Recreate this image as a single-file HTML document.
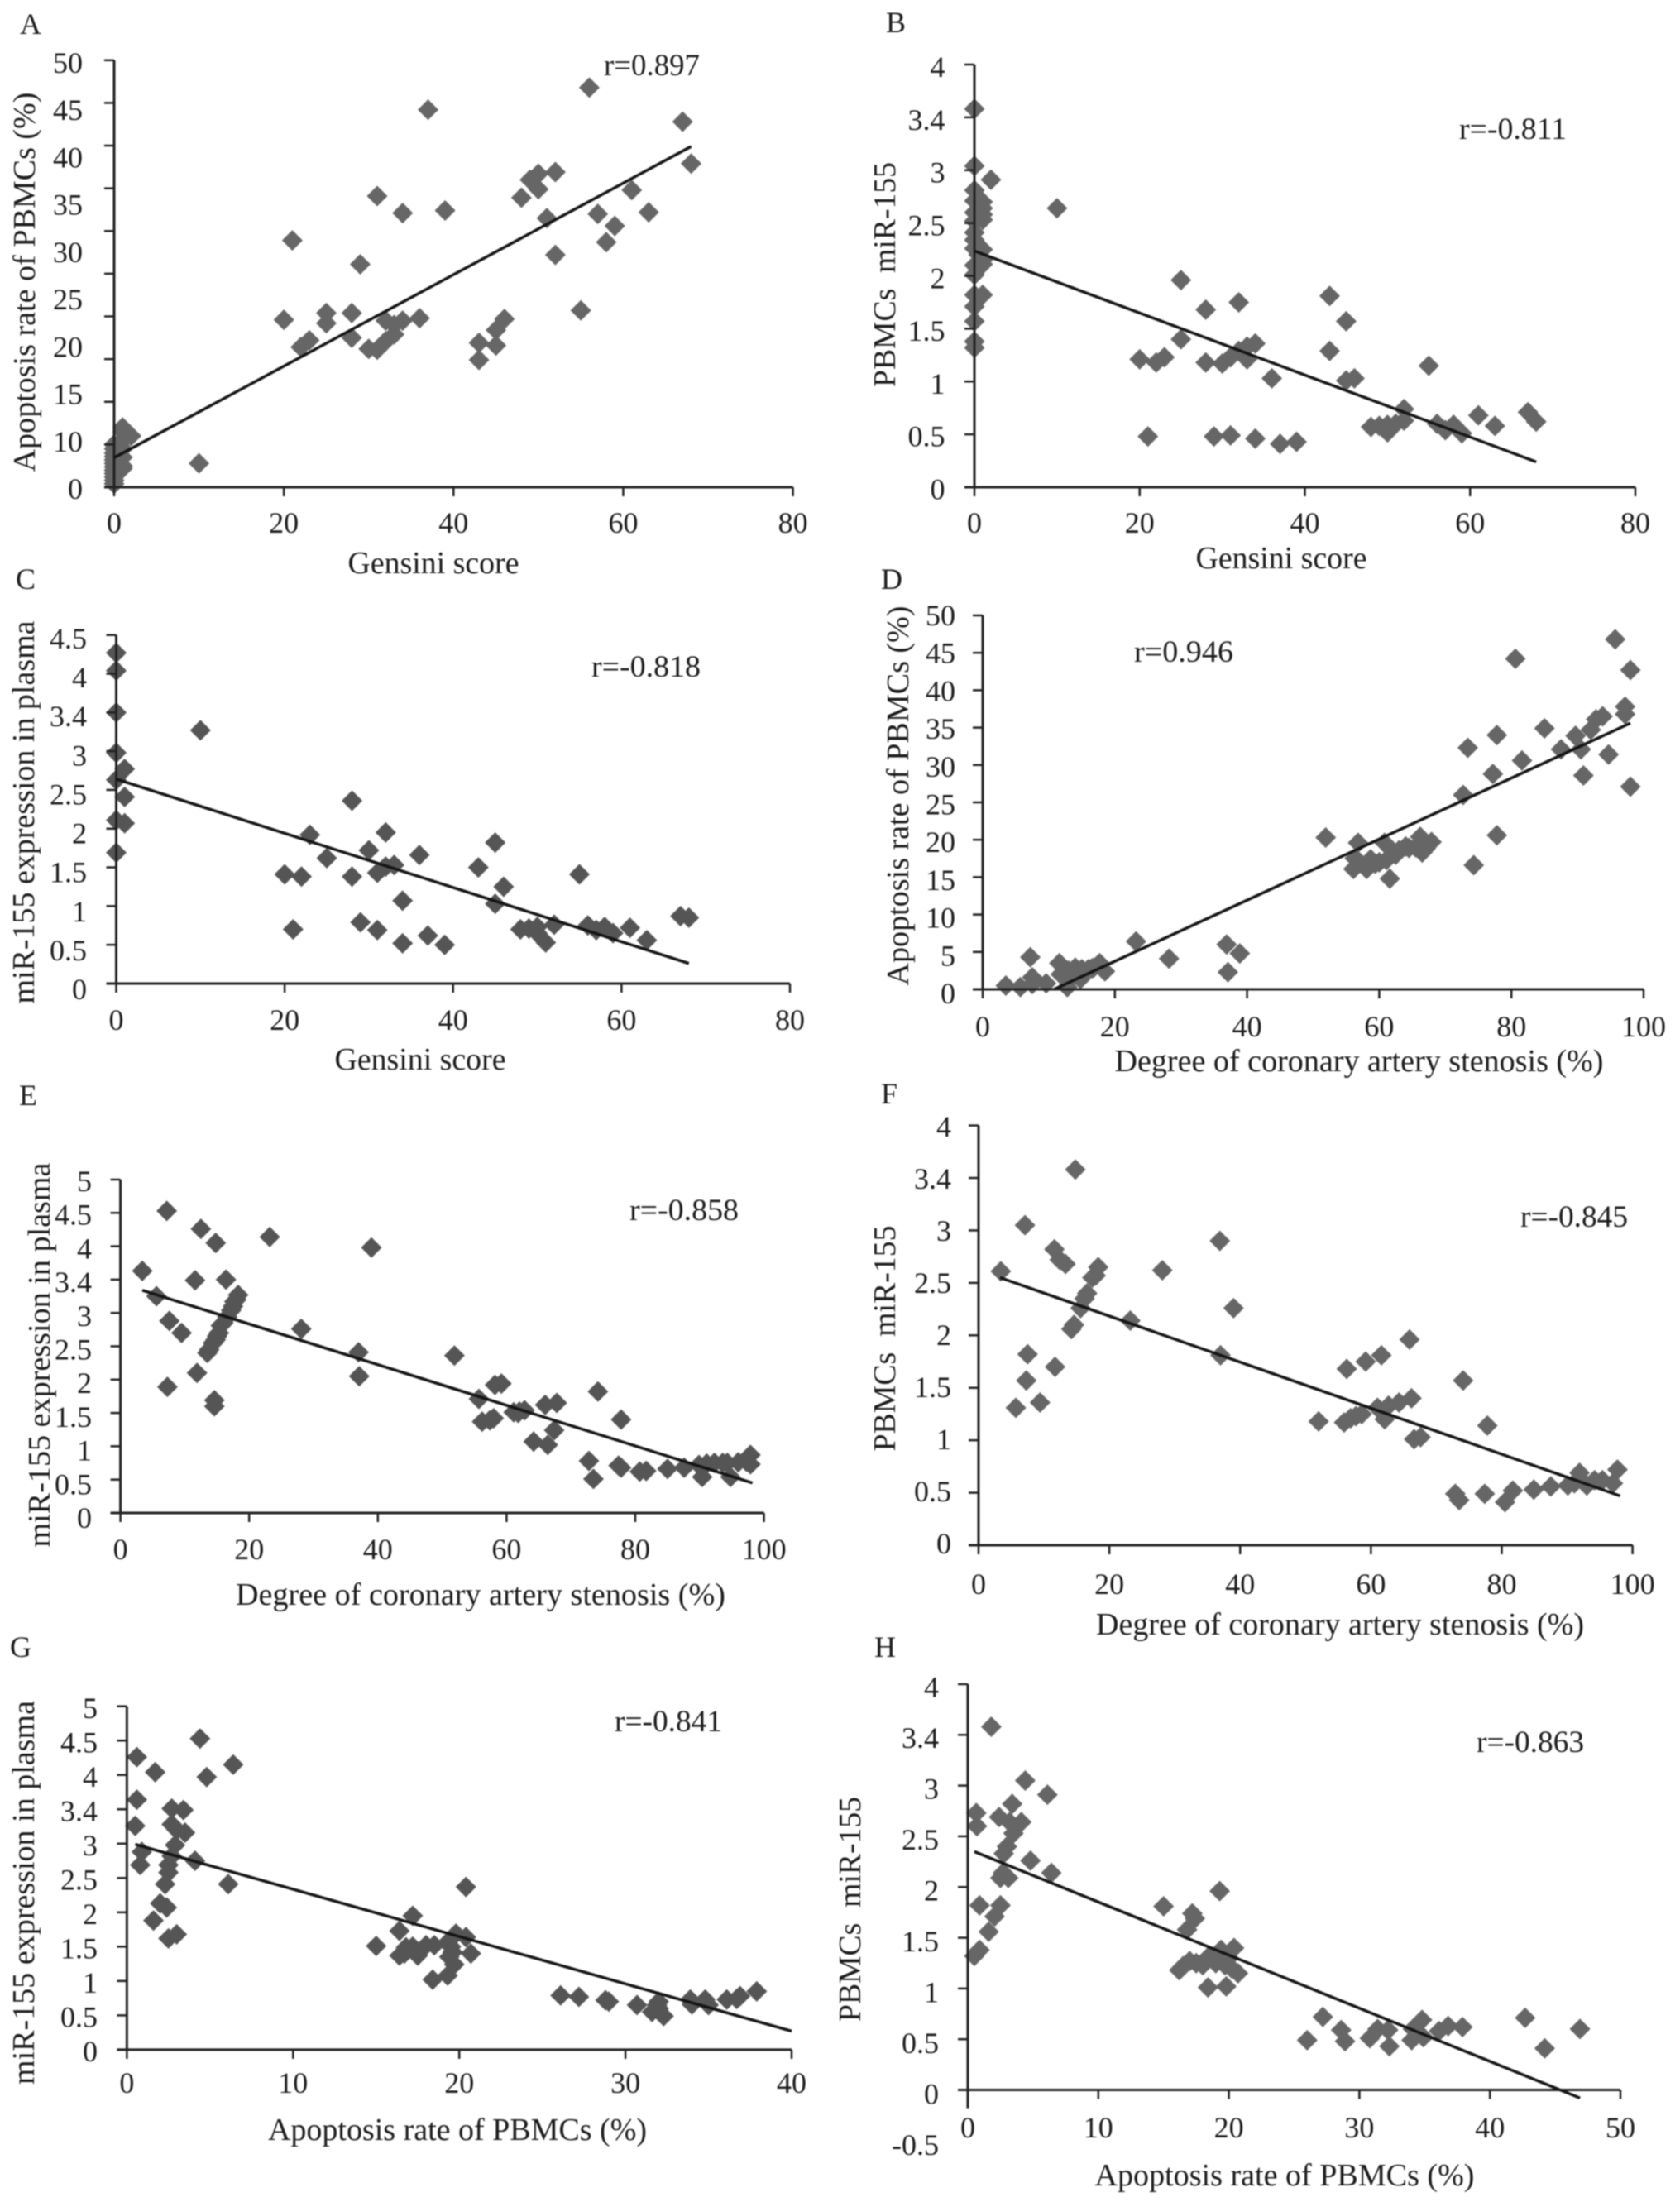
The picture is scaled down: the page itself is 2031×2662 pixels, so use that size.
<!DOCTYPE html>
<html lang="en">
<head>
<meta charset="utf-8">
<title>Correlation scatter plots A-H</title>
<style>
html,body{margin:0;padding:0;background:#fff;width:2031px;height:2662px;overflow:hidden}
svg{display:block;filter:blur(0.7px)}
text{font-family:"Liberation Serif","Times New Roman",serif;fill:#1c1c1c}
.tick{font-size:36px}
.title{font-size:38px}
.r{font-size:37px}
.letter{font-size:36px}
</style>
</head>
<body>
<svg id="figure" xmlns="http://www.w3.org/2000/svg" width="2031" height="2662" viewBox="0 0 2031 2662">
<rect x="0" y="0" width="2031" height="2662" fill="#fff"/>

<g id="panel-a">
<text class="letter" x="37" y="41" text-anchor="middle">A</text>
<text class="r" x="788" y="91" text-anchor="middle" textLength="116" lengthAdjust="spacingAndGlyphs">r=0.897</text>
<text class="title" x="524" y="693" text-anchor="middle" textLength="207" lengthAdjust="spacingAndGlyphs">Gensini score</text>
<text class="title" transform="translate(42,341) rotate(-90)" text-anchor="middle" textLength="459" lengthAdjust="spacingAndGlyphs">Apoptosis rate of PBMCs (%)</text>
</g>

<g id="panel-b">
<text class="letter" x="1083" y="39" text-anchor="middle">B</text>
<text class="r" x="1829" y="168" text-anchor="middle" textLength="130" lengthAdjust="spacingAndGlyphs">r=-0.811</text>
<text class="title" x="1549" y="687" text-anchor="middle" textLength="207" lengthAdjust="spacingAndGlyphs">Gensini score</text>
<text class="title" transform="translate(1082,332) rotate(-90)" text-anchor="middle" textLength="272" lengthAdjust="spacingAndGlyphs" xml:space="preserve">PBMCs  miR-155</text>
</g>

<g id="panel-c">
<text class="letter" x="31" y="712" text-anchor="middle">C</text>
<text class="r" x="781" y="818" text-anchor="middle" textLength="132" lengthAdjust="spacingAndGlyphs">r=-0.818</text>
<text class="title" x="508" y="1293" text-anchor="middle" textLength="207" lengthAdjust="spacingAndGlyphs">Gensini score</text>
<text class="title" transform="translate(41,982) rotate(-90)" text-anchor="middle" textLength="463" lengthAdjust="spacingAndGlyphs">miR-155 expression in plasma</text>
</g>

<g id="panel-d">
<text class="letter" x="1078" y="712" text-anchor="middle">D</text>
<text class="r" x="1431" y="800" text-anchor="middle" textLength="120" lengthAdjust="spacingAndGlyphs">r=0.946</text>
<text class="title" x="1643" y="1295" text-anchor="middle" textLength="591" lengthAdjust="spacingAndGlyphs">Degree of coronary artery stenosis (%)</text>
<text class="title" transform="translate(1098,962) rotate(-90)" text-anchor="middle" textLength="459" lengthAdjust="spacingAndGlyphs">Apoptosis rate of PBMCs (%)</text>
</g>

<g id="panel-e">
<text class="letter" x="34" y="1336" text-anchor="middle">E</text>
<text class="r" x="827" y="1475" text-anchor="middle" textLength="132" lengthAdjust="spacingAndGlyphs">r=-0.858</text>
<text class="title" x="581" y="1940" text-anchor="middle" textLength="592" lengthAdjust="spacingAndGlyphs">Degree of coronary artery stenosis (%)</text>
<text class="title" transform="translate(60,1638) rotate(-90)" text-anchor="middle" textLength="465" lengthAdjust="spacingAndGlyphs">miR-155 expression in plasma</text>
</g>

<g id="panel-f">
<text class="letter" x="1075" y="1334" text-anchor="middle">F</text>
<text class="r" x="1903" y="1483" text-anchor="middle" textLength="130" lengthAdjust="spacingAndGlyphs">r=-0.845</text>
<text class="title" x="1620" y="1976" text-anchor="middle" textLength="590" lengthAdjust="spacingAndGlyphs">Degree of coronary artery stenosis (%)</text>
<text class="title" transform="translate(1082,1618) rotate(-90)" text-anchor="middle" textLength="273" lengthAdjust="spacingAndGlyphs" xml:space="preserve">PBMCs  miR-155</text>
</g>

<g id="panel-g">
<text class="letter" x="25" y="2003" text-anchor="middle">G</text>
<text class="r" x="808" y="2093" text-anchor="middle" textLength="130" lengthAdjust="spacingAndGlyphs">r=-0.841</text>
<text class="title" x="553" y="2587" text-anchor="middle" textLength="458" lengthAdjust="spacingAndGlyphs">Apoptosis rate of PBMCs (%)</text>
<text class="title" transform="translate(41,2288) rotate(-90)" text-anchor="middle" textLength="464" lengthAdjust="spacingAndGlyphs">miR-155 expression in plasma</text>
</g>

<g id="panel-h">
<text class="letter" x="1070" y="2003" text-anchor="middle">H</text>
<text class="r" x="1850" y="2118" text-anchor="middle" textLength="130" lengthAdjust="spacingAndGlyphs">r=-0.863</text>
<text class="title" x="1553" y="2642" text-anchor="middle" textLength="459" lengthAdjust="spacingAndGlyphs">Apoptosis rate of PBMCs (%)</text>
<text class="title" transform="translate(1040,2308) rotate(-90)" text-anchor="middle" textLength="272" lengthAdjust="spacingAndGlyphs" xml:space="preserve">PBMCs  miR-155</text>
</g>
</svg>

<script>
// ---- Shared axis data ----
const gensiniTicks = [0, 20, 40, 60, 80];
const stenosisTicks = [0, 20, 40, 60, 80, 100];
const apoptosisTicksG = [0, 10, 20, 30, 40];
const apoptosisTicksH = [0, 10, 20, 30, 40, 50];
const apoptosisValueTicks = [0, 5, 10, 15, 20, 25, 30, 35, 40, 45, 50];
const pbmcValueTicks = [0, 0.5, 1, 1.5, 2, 2.5, 3, 3.5, 4];
const plasmaTicksC = [0, 0.5, 1, 1.5, 2, 2.5, 3, 3.5, 4, 4.5];
const plasmaTicksEG = [0, 0.5, 1, 1.5, 2, 2.5, 3, 3.5, 4, 4.5, 5];

const yLabelsA = ['50','45','40','35','30','25','20','15','10','0'];
const yLabelsB = ['4','3.4','3','2.5','2','1.5','1','0.5','0'];
const yLabelsC = ['4.5','4','3.4','3','2.5','2','1.5','1','0.5','0'];
const yLabelsD = ['50','45','40','35','30','25','20','15','10','5','0'];
const yLabelsE = ['5','4.5','4','3.4','3','2.5','2','1.5','1','0.5','0'];
const yLabelsH = ['4','3.4','3','2.5','2','1.5','1','0.5','0','-0.5'];

// ---- Panel A: Gensini score vs apoptosis ----
const aGensini = [0,0,0,0,0,0,0,0,0,0,0,0,1,1,1,1,1,1,1,2,10,20,21,22,23,25,25,28,28,29,30,31,31,32,32,33,33,34,34,36,37,39,43,43,45,45,46,48,49,50,50,51,52,52,55,56,57,58,59,61,63,67,68];
const aApoptosis = [0.4,0.8,1.2,1.6,2,2.4,2.8,3.2,3.6,4,4.5,5,2.2,2.5,3.5,4.5,5.5,6.5,7,6,2.8,19.6,28.9,16.4,17.2,20.4,19.2,20.4,17.5,26.1,16.2,34.1,16.1,17.1,19.5,17.9,19,32.1,19.5,19.8,44.2,32.4,16.9,14.9,16.6,18.4,19.7,33.9,36,36.7,34.9,31.5,36.9,27.2,20.7,46.8,32,28.7,30.6,34.8,32.2,42.8,37.9];
const aTrendX = [0, 68];
const aTrendY = [3.46, 39.9];

// ---- Panel B: Gensini score vs PBMC miR-155 ----
const bGensini = [0,0,0,0,0,0,0,0,0,0,0,0,0,0,0,0,0.5,0.5,0.5,1,1,1,1,1,1,1,1,2,10,20,21,22,23,25,25,28,28,29,30,31,31,32,32,33,33,34,34,36,37,39,43,43,45,45,46,48,49,50,50,51,52,52,55,56,57,58,59,61,63,67,68];
const bMir = [3.58,3.04,2.81,2.71,2.6,2.52,2.41,2.34,2.26,2.1,2.01,1.82,1.71,1.57,1.38,1.32,2.6,2.7,2.2,2.7,2.64,2.53,2.58,2.25,2.11,2.15,1.82,2.91,2.64,1.21,0.48,1.18,1.23,1.96,1.4,1.68,1.18,0.48,1.17,0.49,1.23,1.75,1.29,1.21,1.33,1.36,0.46,1.03,0.41,0.43,1.81,1.29,1.57,1.01,1.03,0.57,0.58,0.52,0.59,0.6,0.74,0.63,1.15,0.6,0.54,0.59,0.51,0.68,0.58,0.71,0.62];
const bTrendX = [0, 68];
const bTrendY = [2.236, 0.24];

// ---- Panel C: Gensini score vs plasma miR-155 ----
const cGensini = [0,0,0,0,0,0,0,1,1,1,10,20,21,22,23,25,28,28,29,30,31,31,32,32,33,34,34,36,37,39,43,45,45,46,48,49,50,50,51,52,55,56,57,58,59,61,63,67,68];
const cMir = [4.27,4.04,3.5,2.98,2.63,2.11,1.69,2.77,2.41,2.07,3.27,1.41,0.7,1.38,1.92,1.62,2.36,1.38,0.79,1.72,1.43,0.69,1.95,1.51,1.53,1.07,0.52,1.66,0.62,0.5,1.5,1.82,1.03,1.25,0.7,0.71,0.73,0.65,0.53,0.76,1.41,0.75,0.69,0.73,0.65,0.72,0.56,0.87,0.85];
const cTrendX = [0, 68];
const cTrendY = [2.64, 0.26];

// ---- Panel D: stenosis vs apoptosis ----
const dStenosis = [3.5,5.7,7.2,7.5,7.5,9.6,11.6,11.8,12.8,12.8,13,14,14,14.8,15,15.2,16,16.5,16.8,17.7,18.5,23.2,28.2,36.9,37.1,38.9,51.9,56.1,56.3,56.8,57,58.1,58.7,59.4,60,60.8,61.1,61.6,61.9,62.5,63,64,64.5,65.5,66.2,66.5,66.8,67,67.9,72.7,73.4,74.3,77.2,77.8,77.8,80.6,81.6,85,87.5,89.7,90.5,90.9,92,92.8,93.8,94.7,95.7,97.2,97.2,98,98];
const dApoptosis = [0.5,0.3,4.3,1.6,0.7,0.8,3.5,2,0.3,1.6,2.5,2.9,2,1.4,2.7,2.4,2.7,2.8,2.9,3.5,2.4,6.4,4.1,6,2.3,4.8,20.3,16.1,17.5,19.6,17,16.1,17.4,16.8,17,19.6,17.3,14.8,18.6,18,18.6,19.1,18.9,19,20.4,18.3,19.5,18.8,19.7,26,32.3,16.6,28.8,34,20.6,44.2,30.6,34.9,32.1,33.9,32.1,28.6,34.7,36.1,36.5,31.4,46.8,36.8,37.8,42.7,27.1];
const dTrendX = [10.8, 98];
const dTrendY = [0, 35.6];

// ---- Panel E: stenosis vs plasma miR-155 ----
const eStenosis = [3.4,5.6,7.2,7.6,7.3,9.5,11.6,11.9,12.5,13.5,13.8,14.4,14.8,14.8,14.6,14.6,15,15.3,15.6,16,16.4,16.6,17.2,17.5,17.7,18,18.3,23.2,28.1,37,37.1,39,51.9,55.7,56.2,57.4,58.2,59.2,58,61.1,61.8,62,62.8,64.2,66,66.4,67.4,67.8,72.8,73.5,74.2,77.4,77.8,77.8,80.7,81.7,85,87.6,89.9,90.4,91.1,92.3,93.6,94.8,94.3,96,97.3,97.9,97.9];
const eMir = [3.63,3.25,4.53,2.88,1.89,2.7,3.49,2.1,4.26,2.4,2.45,2.55,4.05,2.6,1.69,1.6,2.65,2.7,2.81,2.85,3.5,2.94,3.04,3.1,3.17,3.2,3.27,4.14,2.76,2.41,2.05,3.98,2.36,1.71,1.37,1.39,1.92,1.94,1.42,1.51,1.5,1.52,1.54,1.07,1.62,1.02,1.24,1.65,0.78,0.51,1.82,0.71,1.4,0.68,0.62,0.63,0.66,0.68,0.72,0.54,0.74,0.75,0.75,0.54,0.75,0.76,0.77,0.87,0.73];
const eTrendX = [3.4, 98.2];
const eTrendY = [3.34, 0.45];

// ---- Panel F: stenosis vs PBMC miR-155 ----
const fStenosis = [3.4,5.7,7.1,7.5,7.3,9.4,11.7,11.6,12.4,13.3,14.2,14.6,14.8,15.6,16.2,16.6,17.4,17.9,18.3,23.2,28.1,37,36.9,39,52,55.9,56.3,56.9,57.7,58.6,59.2,61,61.6,62.1,62.7,64.3,65.9,66.2,66.6,67.6,72.9,73.5,74.1,77.4,77.8,80.5,81.7,84.9,87.5,90.1,91.1,91.9,93,94.2,95.4,97,97.7];
const fMir = [2.61,1.31,3.05,1.82,1.57,1.36,1.7,2.82,2.72,2.68,2.06,2.1,3.58,2.26,2.35,2.4,2.55,2.57,2.65,2.14,2.62,1.81,2.9,2.26,1.18,1.17,1.68,1.21,1.23,1.25,1.75,1.31,1.81,1.2,1.33,1.36,1.96,1.4,1.01,1.03,0.49,0.43,1.57,0.49,1.14,0.41,0.52,0.53,0.56,0.57,0.59,0.69,0.57,0.62,0.62,0.59,0.72];
const fTrendX = [3.3, 98.1];
const fTrendY = [2.55, 0.47];

// ---- Panel G: apoptosis vs plasma miR-155 ----
const gApoptosis = [0.5,0.6,0.6,0.8,0.9,1.6,1.7,2,2.4,2.3,2.5,3,2.5,2.5,2.7,2.9,2.7,2.7,3,3.4,3.5,4.1,4.4,4.8,6.1,6.4,15,16.4,16.4,16.7,16.8,17.2,17.2,17.5,18,18.5,18.4,19.3,19.4,19.4,19.5,19.6,19.7,19.8,20.4,20.4,20.7,26.1,27.2,28.8,29,30.7,31.6,31.9,32,32,32.3,33.9,34,34.8,35,36.1,36.7,36.9,37.9];
const gMir = [3.26,3.64,4.26,2.69,2.88,1.88,4.04,2.13,2.07,2.41,1.62,1.68,2.58,2.69,2.82,2.98,3.51,3.28,3.2,3.49,3.16,2.75,4.53,3.97,2.41,4.15,1.51,1.37,1.73,1.4,1.49,1.95,1.5,1.37,1.52,1.52,1.02,1.08,1.59,1.35,1.5,1.42,1.24,1.69,1.64,2.37,1.4,0.79,0.77,0.72,0.7,0.65,0.55,0.65,0.7,0.6,0.49,0.73,0.66,0.73,0.65,0.73,0.74,0.78,0.85];
const gTrendX = [0.5, 40];
const gTrendY = [2.99, 0.27];

// ---- Panel H: apoptosis vs PBMC miR-155 ----
const hApoptosis = [0.5,0.9,0.9,0.65,0.7,1.6,1.8,2.05,2.5,2.4,2.5,2.7,2.75,3,3.1,3.2,3.4,3.5,4.1,4.4,4.8,6.1,6.4,15,16.2,16.5,16.8,17,17.2,17.4,17.5,18,18.4,18.5,18.8,19,19.3,19.4,19.7,19.8,20,20.2,20.4,20.7,26,27.2,28.6,28.9,30.8,31.4,32.2,32.3,34,34.1,34.8,34.9,36.1,36.8,37.9,42.7,44.2,46.9];
const hMir = [1.32,1.38,1.82,2.73,2.6,1.56,3.58,1.71,1.82,2.69,2.09,2.14,2.33,2.4,2.09,2.64,2.82,2.53,2.64,3.05,2.26,2.91,2.14,1.81,1.18,1.22,1.58,1.27,1.74,1.69,1.25,1.23,1.01,1.32,1.3,1.25,1.96,1.38,1.23,1.02,1.3,1.2,1.4,1.15,0.49,0.72,0.59,0.48,0.51,0.6,0.59,0.43,0.49,0.6,0.69,0.52,0.58,0.63,0.62,0.71,0.41,0.6];
const hTrendX = [0.5, 46.9];
const hTrendY = [2.35, -0.08];

const panels = [
  {id:'a', xs:aGensini, ys:aApoptosis, tx:aTrendX, ty:aTrendY, xTicks:gensiniTicks, yTicks:apoptosisValueTicks, yLabels:yLabelsA,
   left:138, right:958.6, top:72.8, bottom:589, yTop:50, yZero:0, xMax:80, axisEnd:0, labelRight:100, labelTop:76, labelBottom:591, xLabelY:632, color:'#666'},
  {id:'b', xs:bGensini, ys:bMir, tx:bTrendX, ty:bTrendY, xTicks:gensiniTicks, yTicks:pbmcValueTicks, yLabels:yLabelsB,
   left:1178, right:1977, top:78, bottom:589, yTop:4, yZero:0, xMax:80, axisEnd:0, labelRight:1142.5, labelTop:81, labelBottom:591.5, xLabelY:632, color:'#666'},
  {id:'c', xs:cGensini, ys:cMir, tx:cTrendX, ty:cTrendY, xTicks:gensiniTicks, yTicks:plasmaTicksC, yLabels:yLabelsC,
   left:140.5, right:955, top:767.7, bottom:1189, yTop:4.5, yZero:0, xMax:80, axisEnd:0, labelRight:105, labelTop:772, labelBottom:1196, xLabelY:1233, color:'#555'},
  {id:'d', xs:dStenosis, ys:dApoptosis, tx:dTrendX, ty:dTrendY, xTicks:stenosisTicks, yTicks:apoptosisValueTicks, yLabels:yLabelsD,
   left:1188, right:1987, top:744, bottom:1196, yTop:50, yZero:0, xMax:100, axisEnd:0, labelRight:1155, labelTop:744, labelBottom:1201, xLabelY:1241, color:'#666'},
  {id:'e', xs:eStenosis, ys:eMir, tx:eTrendX, ty:eTrendY, xTicks:stenosisTicks, yTicks:plasmaTicksEG, yLabels:yLabelsE,
   left:145.6, right:923.6, top:1426, bottom:1829, yTop:5, yZero:0, xMax:100, axisEnd:0, labelRight:111, labelTop:1428, labelBottom:1835, xLabelY:1873, color:'#555'},
  {id:'f', xs:fStenosis, ys:fMir, tx:fTrendX, ty:fTrendY, xTicks:stenosisTicks, yTicks:pbmcValueTicks, yLabels:yLabelsB,
   left:1183, right:1973.6, top:1360.6, bottom:1868, yTop:4, yZero:0, xMax:100, axisEnd:0, labelRight:1150, labelTop:1362, labelBottom:1866, xLabelY:1915, color:'#666'},
  {id:'g', xs:gApoptosis, ys:gMir, tx:gTrendX, ty:gTrendY, xTicks:apoptosisTicksG, yTicks:plasmaTicksEG, yLabels:yLabelsE,
   left:153.4, right:957, top:2062.7, bottom:2477.9, yTop:5, yZero:0, xMax:40, axisEnd:0, labelRight:118, labelTop:2065, labelBottom:2480, xLabelY:2518, color:'#555'},
  {id:'h', xs:hApoptosis, ys:hMir, tx:hTrendX, ty:hTrendY, xTicks:apoptosisTicksH, yTicks:pbmcValueTicks, yLabels:yLabelsH,
   left:1170, right:1959, top:2036, bottom:2526.5, yTop:4, yZero:0, xMax:50, axisEnd:-0.18, labelRight:1135, labelTop:2039.5, labelBottom:2593, xLabelY:2572, color:'#666'}
];

const SVG_NS = 'http://www.w3.org/2000/svg';
const AXIS_COLOR = '#222';
const MARKER_HALF = 12.5;

function drawPanel(p) {
  const group = document.getElementById('panel-' + p.id);
  const sx = v => p.left + v / p.xMax * (p.right - p.left);
  const sy = v => p.bottom - (v - p.yZero) / (p.yTop - p.yZero) * (p.bottom - p.top);

  // markers
  for (let i = 0; i < p.xs.length; i++) {
    const cx = sx(p.xs[i]);
    const cy = sy(p.ys[i]);
    const marker = document.createElementNS(SVG_NS, 'path');
    marker.setAttribute('d', 'M' + cx + ' ' + (cy - MARKER_HALF) + 'L' + (cx + MARKER_HALF) + ' ' + cy + 'L' + cx + ' ' + (cy + MARKER_HALF) + 'L' + (cx - MARKER_HALF) + ' ' + cy + 'Z');
    marker.setAttribute('fill', p.color);
    
    
    group.appendChild(marker);
  }

  // y axis
  const yAxis = document.createElementNS(SVG_NS, 'line');
  yAxis.setAttribute('x1', sx(0));
  yAxis.setAttribute('x2', sx(0));
  yAxis.setAttribute('y1', sy(p.yTop));
  yAxis.setAttribute('y2', sy(p.axisEnd));
  yAxis.setAttribute('stroke', AXIS_COLOR);
  yAxis.setAttribute('stroke-width', '3');
  
  
  group.appendChild(yAxis);

  // x axis
  const xAxis = document.createElementNS(SVG_NS, 'line');
  xAxis.setAttribute('x1', sx(0) - 12);
  xAxis.setAttribute('x2', sx(p.xMax));
  xAxis.setAttribute('y1', sy(0));
  xAxis.setAttribute('y2', sy(0));
  xAxis.setAttribute('stroke', AXIS_COLOR);
  xAxis.setAttribute('stroke-width', '3');
  
  
  group.appendChild(xAxis);

  // y ticks
  p.yTicks.forEach(function (v) {
    const tick = document.createElementNS(SVG_NS, 'line');
    tick.setAttribute('x1', sx(0) - 12);
    tick.setAttribute('x2', sx(0));
    tick.setAttribute('y1', sy(v));
    tick.setAttribute('y2', sy(v));
    tick.setAttribute('stroke', AXIS_COLOR);
    tick.setAttribute('stroke-width', '2.5');
    
    
    group.appendChild(tick);
  });

  // x ticks and labels
  p.xTicks.forEach(function (v) {
    const tick = document.createElementNS(SVG_NS, 'line');
    tick.setAttribute('x1', sx(v));
    tick.setAttribute('x2', sx(v));
    tick.setAttribute('y1', sy(0));
    tick.setAttribute('y2', sy(0) + 11);
    tick.setAttribute('stroke', AXIS_COLOR);
    tick.setAttribute('stroke-width', '2.5');
    
    
    group.appendChild(tick);

    const label = document.createElementNS(SVG_NS, 'text');
    label.setAttribute('class', 'tick');
    label.setAttribute('x', sx(v));
    label.setAttribute('y', p.xLabelY + 12);
    label.setAttribute('text-anchor', 'middle');
    
    
    label.textContent = String(v);
    group.appendChild(label);
  });

  // y labels are evenly spaced by index between their own top and bottom
  p.yLabels.forEach(function (text, i) {
    const label = document.createElementNS(SVG_NS, 'text');
    label.setAttribute('class', 'tick');
    label.setAttribute('x', p.labelRight);
    label.setAttribute('y', p.labelTop + i / (p.yLabels.length - 1) * (p.labelBottom - p.labelTop) + 12);
    label.setAttribute('text-anchor', 'end');
    
    
    label.textContent = text;
    group.appendChild(label);
  });

  // trend line
  const trend = document.createElementNS(SVG_NS, 'line');
  trend.setAttribute('x1', sx(p.tx[0]));
  trend.setAttribute('y1', sy(p.ty[0]));
  trend.setAttribute('x2', sx(p.tx[1]));
  trend.setAttribute('y2', sy(p.ty[1]));
  trend.setAttribute('stroke', '#151515');
  trend.setAttribute('stroke-width', '3.5');
  
  
  group.appendChild(trend);
}

panels.forEach(drawPanel);
</script>
</body>
</html>
